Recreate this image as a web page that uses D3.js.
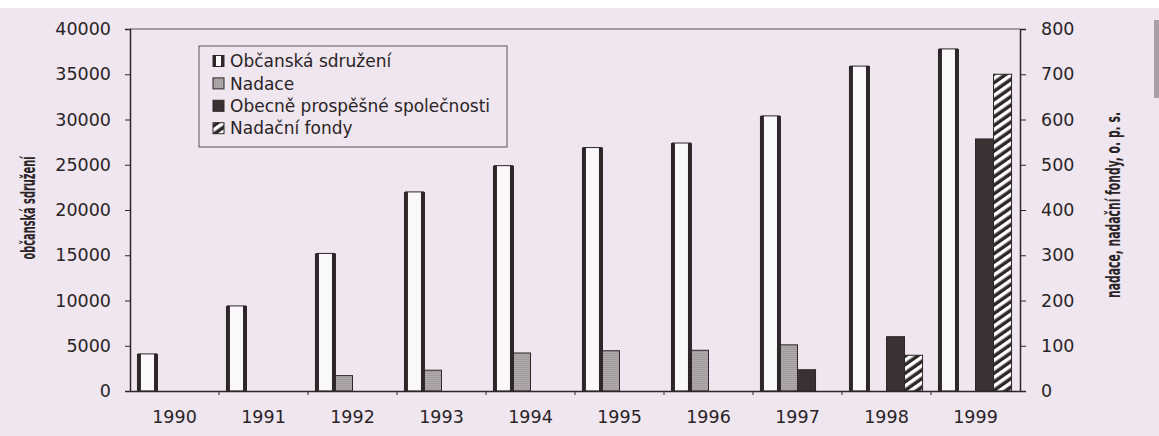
<!DOCTYPE html>
<html>
<head>
<meta charset="utf-8">
<script src="https://cdn.jsdelivr.net/npm/d3@7"></script>
<style>
  body { margin: 0; background: #efe6ef; }
  svg { display: block; }
  .tick text { font-family: "DejaVu Sans", Verdana, sans-serif; font-size: 17.5px; fill: #2a2426; }
  .legend text { font-family: "DejaVu Sans", sans-serif; font-size: 17px; fill: #2a2426; }
  .title { font-family: "Liberation Sans Narrow", "DejaVu Sans Condensed", sans-serif; font-weight: bold; fill: #2a2426; }
</style>
</head>
<body>
<svg id="chart"></svg>
<script>
// data
var years = ["1990", "1991", "1992", "1993", "1994", "1995", "1996", "1997", "1998", "1999"];
var seriesNames = ["Občanská sdružení", "Nadace", "Obecně prospěšné společnosti", "Nadační fondy"];
var obcanska = [4100, 9400, 15200, 22000, 24900, 26900, 27400, 30400, 35900, 37800];
var nadace = [0, 0, 34, 46, 84, 89, 90, 102, 0, 0];
var ops = [0, 0, 0, 0, 0, 0, 0, 47, 120, 557];
var fondy = [0, 0, 0, 0, 0, 0, 0, 0, 79, 700];
var leftTicks = [0, 5000, 10000, 15000, 20000, 25000, 30000, 35000, 40000];
var rightTicks = [0, 100, 200, 300, 400, 500, 600, 700, 800];

var svgWidth = 1159, svgHeight = 436;
var margin = { top: 29, right: 139, bottom: 45, left: 130 };
var width = svgWidth - margin.left - margin.right;
var height = svgHeight - margin.top - margin.bottom;
var ink = "#2e2628";

var svg = d3.select("#chart")
  .attr("width", svgWidth)
  .attr("height", svgHeight);

// paper, white strip and scrollbar bits from the scan
svg.append("rect").attr("width", svgWidth).attr("height", svgHeight).attr("fill", "#efe6ef");
svg.append("rect").attr("width", svgWidth).attr("height", 8).attr("fill", "#ffffff");
svg.append("rect").attr("x", 1154).attr("y", 20).attr("width", 5).attr("height", 78).attr("fill", "#a7a1a6");

var defs = svg.append("defs");
var hatch = defs.append("pattern")
  .attr("id", "hatch")
  .attr("patternUnits", "userSpaceOnUse")
  .attr("width", 7).attr("height", 7)
  .attr("patternTransform", "rotate(-35)");
hatch.append("rect").attr("width", 7).attr("height", 7).attr("fill", ink);
hatch.append("rect").attr("width", 7).attr("height", 3.5).attr("fill", "#ffffff");

var dots = defs.append("pattern")
  .attr("id", "dots")
  .attr("patternUnits", "userSpaceOnUse")
  .attr("width", 2).attr("height", 2);
dots.append("rect").attr("width", 2).attr("height", 2).attr("fill", "#b1abae");
dots.append("rect").attr("width", 1).attr("height", 1).attr("fill", "#8f898c");

var fills = ["#fbf8fb", "url(#dots)", "#3b3132", "url(#hatch)"];

var chartGroup = svg.append("g")
  .attr("transform", `translate(${margin.left}, ${margin.top})`);

// scales
var x0 = d3.scaleBand().domain(years).range([0, width]).paddingInner(0.19).paddingOuter(0.095);
var x1 = d3.scaleBand().domain(d3.range(4)).range([0, x0.bandwidth()]);
var yLeft = d3.scaleLinear().domain([0, 40000]).range([height, 0]);
var yRight = d3.scaleLinear().domain([0, 800]).range([height, 0]);

var rows = years.map(function (yr, i) {
  return { year: yr, vals: [obcanska[i], nadace[i], ops[i], fondy[i]] };
});

// bars
var groups = chartGroup.selectAll(".year")
  .data(rows)
  .enter()
  .append("g")
  .attr("transform", d => `translate(${x0(d.year)}, 0)`);

groups.selectAll("rect")
  .data(d => d.vals.map((v, k) => ({ k: k, v: v })).filter(e => e.v > 0))
  .enter()
  .append("rect")
  .attr("x", e => x1(e.k))
  .attr("width", x1.bandwidth())
  .attr("y", e => e.k == 0 ? yLeft(e.v) : yRight(e.v))
  .attr("height", e => height - (e.k == 0 ? yLeft(e.v) : yRight(e.v)))
  .attr("fill", e => fills[e.k])
  .attr("stroke", ink)
  .attr("stroke-width", 1);

// thick sides of the open bars
groups.each(function (d) {
  var g = d3.select(this);
  var top = yLeft(d.vals[0]);
  [x1(0) + 0.5, x1(0) + x1.bandwidth() - 0.5].forEach(function (xx) {
    g.append("line")
      .attr("x1", xx).attr("x2", xx)
      .attr("y1", top).attr("y2", height)
      .attr("stroke", ink).attr("stroke-width", 4);
  });
});

// frame
chartGroup.append("line").attr("x1", 0).attr("x2", width).attr("y1", 0).attr("y2", 0)
  .attr("stroke", "#5a5255").attr("stroke-width", 1);

// axes
var leftAxis = d3.axisLeft(yLeft).tickValues(leftTicks).tickFormat(d3.format("d")).tickSize(5).tickPadding(14);
var rightAxis = d3.axisRight(yRight).tickValues(rightTicks).tickFormat(d3.format("d")).tickSize(6).tickPadding(15);
var bottomAxis = d3.axisBottom(x0).tickSize(0).tickPadding(20);

var gl = chartGroup.append("g").call(leftAxis);
var gr = chartGroup.append("g").attr("transform", `translate(${width}, 0)`).call(rightAxis);
var gb = chartGroup.append("g").attr("transform", `translate(0, ${height})`).call(bottomAxis);
[gl, gr, gb].forEach(function (a) {
  a.select(".domain").attr("stroke", ink).attr("stroke-width", 1.5);
  a.selectAll(".tick line").attr("stroke", ink);
});

// small ticks between the years
chartGroup.selectAll(".sep")
  .data(years.slice(1))
  .enter()
  .append("line")
  .attr("x1", d => x0(d) - x0.step() * 0.095)
  .attr("x2", d => x0(d) - x0.step() * 0.095)
  .attr("y1", height).attr("y2", height + 4)
  .attr("stroke", ink);

// axis titles
svg.append("text")
  .attr("class", "title")
  .attr("transform", "translate(35, 208) rotate(-90)")
  .attr("text-anchor", "middle")
  .attr("font-size", 20)
  .attr("textLength", 103)
  .attr("lengthAdjust", "spacingAndGlyphs")
  .text("občanská sdružení");

svg.append("text")
  .attr("class", "title")
  .attr("transform", "translate(1120, 205) rotate(-90)")
  .attr("text-anchor", "middle")
  .attr("font-size", 19)
  .attr("textLength", 186)
  .attr("lengthAdjust", "spacingAndGlyphs")
  .text("nadace, nadační fondy, o. p. s.");

// legend
var legend = svg.append("g").attr("class", "legend");
legend.append("rect")
  .attr("x", 199).attr("y", 46).attr("width", 308).attr("height", 101)
  .attr("fill", "none").attr("stroke", "#5a5255");

var items = legend.selectAll(".item")
  .data(seriesNames)
  .enter()
  .append("g")
  .attr("transform", (d, i) => `translate(213, ${61 + i * 22.4})`);

items.append("rect")
  .attr("x", 0).attr("y", -5.5).attr("width", 11).attr("height", 11)
  .attr("fill", (d, i) => fills[i])
  .attr("stroke", ink);
items.filter((d, i) => i == 0).each(function () {
  var g = d3.select(this);
  [1.5, 9.5].forEach(function (xx) {
    g.append("line").attr("x1", xx).attr("x2", xx).attr("y1", -5.5).attr("y2", 5.5)
      .attr("stroke", ink).attr("stroke-width", 3);
  });
});

items.append("text")
  .attr("x", 17)
  .attr("dy", "0.36em")
  .text(d => d);
</script>
</body>
</html>
